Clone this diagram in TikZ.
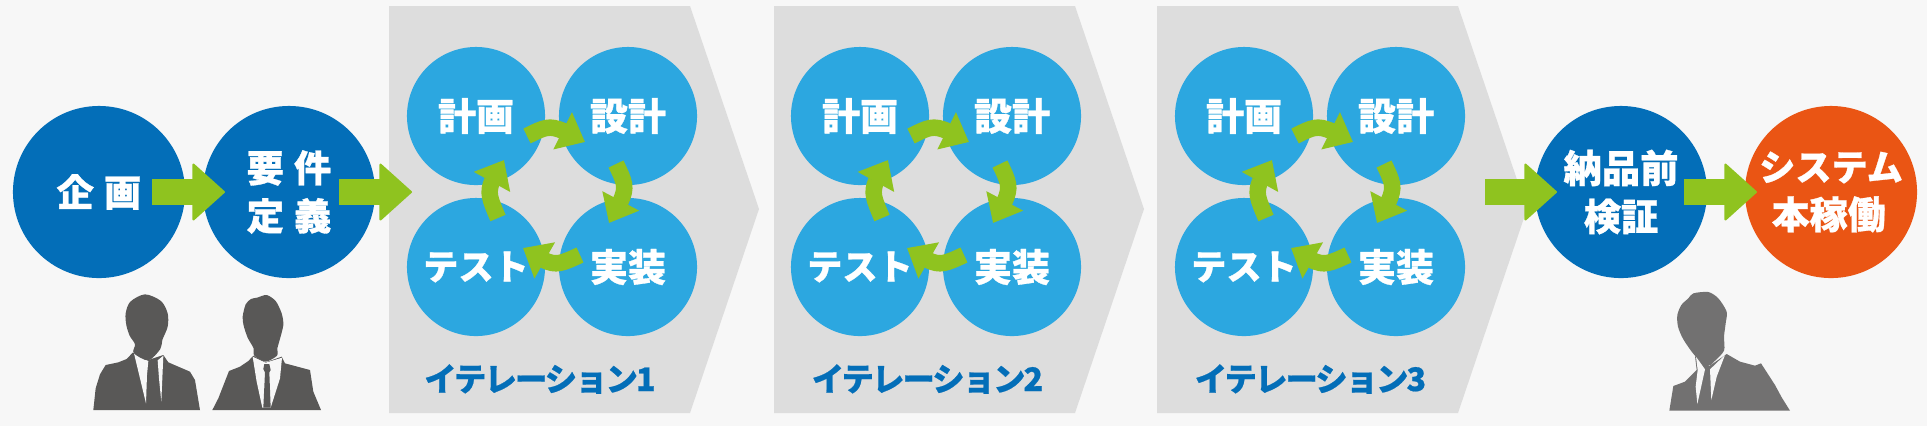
\documentclass[tikz,border=0pt]{standalone}
\usepackage{fontspec}
\usetikzlibrary{arrows.meta, bending}
\newfontfamily\jpfont{Noto Sans CJK JP}[BoldFeatures={FakeBold=.8}]
\newfontfamily\jplabel{Noto Sans CJK JP}[BoldFeatures={FakeBold=.6}, LetterSpace=-6]
\definecolor{pagegray}{HTML}{F7F7F7}
\definecolor{bandgray}{HTML}{DDDDDD}
\definecolor{phaseblue}{HTML}{036EB8}
\definecolor{loopblue}{HTML}{2CA7E0}
\definecolor{flowgreen}{HTML}{8FC31F}
\definecolor{liveorange}{HTML}{EA5514}
\definecolor{persondark}{HTML}{595857}
\definecolor{persongray}{HTML}{727171}
\tikzset{
	phase/.style={circle, fill=phaseblue, text=white, minimum size=1.72cm, inner sep=0pt, align=center,
		font=\jpfont\bfseries\fontsize{10.6}{13.66}\selectfont},
	loopstep/.style={circle, fill=loopblue, text=white, minimum size=1.38cm, inner sep=0pt,
		font=\jpfont\bfseries\fontsize{10.8}{13.66}\selectfont},
	iterlabel/.style={text=phaseblue, inner sep=0pt, font=\jplabel\bfseries\fontsize{9.2}{11}\selectfont},
	flowarrow/.style={draw=flowgreen, line width=.26cm, -{Triangle[length=.33cm, width=.59cm, line width=.02cm, round, fill=flowgreen]}},
	looparrow/.style={draw=flowgreen, line width=.165cm, -{Triangle[length=.25cm, width=.40cm, fill=flowgreen]}},
}
\begin{document}
\begin{tikzpicture}[x=.01cm, y=-.01cm]
	\useasboundingbox (0, 0) rectangle (1927, 426);
	\fill[pagegray] (0, 0) rectangle (1927, 426);

	\foreach \i/\dx/\bx/\lx in {1/0/0/540, 2/384/385/927.5, 3/768/768/1310.5} {
		\fill[bandgray] (389+\bx, 6) -- (690+\bx, 6) -- (759+\bx, 209) -- (690+\bx, 413) -- (389+\bx, 413) -- cycle;

		\node[loopstep] (plan\i) at (476+\dx, 116) {計画};
		\node[loopstep] (design\i) at (628+\dx, 116) {設計};
		\node[loopstep] (build\i) at (628+\dx, 267) {\raisebox{-.03cm}{実装}};
		\node[loopstep] (test\i) at (476+\dx, 267) {\fontsize{10}{13.66}\selectfont\raisebox{-.03cm}{テスト}};
		\node[iterlabel] (iter\i) at (\lx, 379) {イテレーション\i};

		\draw[looparrow] ([shift={(51, 20)}]plan\i.center) .. controls ([shift={(75, 8)}]plan\i.center) .. ([shift={(-43, 26)}]design\i.center);
		\draw[looparrow] ([shift={(-12, 48)}]design\i.center) .. controls ([shift={(0, 73)}]design\i.center) .. ([shift={(-19, -44)}]build\i.center);
		\draw[looparrow] ([shift={(-48, -12)}]build\i.center) .. controls ([shift={(-74, 0)}]build\i.center) .. ([shift={(47, -19)}]test\i.center);
		\draw[looparrow] ([shift={(22, -49)}]test\i.center) .. controls ([shift={(10, -77)}]test\i.center) .. ([shift={(28, 44)}]plan\i.center);
	}

	\node[phase] (concept) at (99, 192) {企\hspace{.27em}画};
	\node[phase] (require) at (289, 192) {要\hspace{.27em}件\\定\hspace{.27em}義};
	\node[phase] (verify) at (1621, 192) {\fontsize{10.9}{13.66}\selectfont 納品前\\検証};
	\node[phase, fill=liveorange] (release) at (1831, 192) {\fontsize{10.3}{13.66}\selectfont システム\\\fontsize{10.8}{13.66}\selectfont 本稼働\hspace*{.12em}};

	\coordinate (enter) at (412, 192);
	\coordinate (leave) at (1485, 192);

	\draw[flowarrow, shorten <=.53cm, shorten >=.64cm] (concept.center) -- (require.center);
	\draw[flowarrow, shorten <=.50cm] (require.center) -- (enter);
	\draw[flowarrow, shorten >=.64cm] (leave) -- (verify.center);
	\draw[flowarrow, shorten <=.63cm, shorten >=.74cm] (verify.center) -- (release.center);

	% left person
	\begin{scope}[shift={(85, 285)}, scale=1/3]
		\fill[persondark] (25, 375) -- (32, 310) -- (45, 268) -- (62, 240) -- (100, 232) -- (125, 222) -- (143, 203) -- (190, 225) -- (235, 210) -- (250, 232) -- (315, 260) -- (330, 285) -- (345, 375) -- cycle;
		\fill[pagegray] (147, 205) -- (190, 228) -- (186, 270) -- (183, 355) -- cycle;
		\fill[pagegray] (235, 212) -- (218, 226) -- (222, 280) -- (229, 350) -- (232, 280) -- cycle;
		\fill[persondark] plot[smooth cycle, tension=.5] coordinates {(146, 204) (150, 178) (134, 152) (124, 120) (122, 85) (136, 50) (180, 28) (228, 48) (248, 85) (248, 125) (232, 165) (226, 192) (190, 226)};
	\end{scope}

	% middle person
	\begin{scope}[shift={(205, 285)}, scale=1/3]
		\fill[persondark] (22, 375) -- (40, 340) -- (72, 258) -- (105, 245) -- (130, 228) -- (145, 212) -- (182, 232) -- (230, 215) -- (240, 235) -- (315, 255) -- (325, 320) -- (348, 375) -- cycle;
		\fill[pagegray] (143, 215) -- (182, 233) -- (231, 218) -- (225, 280) -- (197, 368) -- (172, 368) -- (155, 290) -- cycle;
		\fill[persondark] (178, 237) -- (193, 237) -- (197, 255) -- (193, 262) -- (197, 368) -- (175, 368) -- (180, 262) -- (175, 252) -- cycle;
		\fill[persondark] plot[smooth cycle, tension=.45] coordinates {(156, 38) (185, 30) (212, 48) (230, 85) (235, 120) (224, 165) (217, 190) (216, 212) (182, 230) (148, 212) (146, 190) (128, 158) (116, 122) (113, 95) (122, 58) (138, 42)};
	\end{scope}

	% right person
	\begin{scope}[shift={(1660, 280)}, scale=1/3]
		\fill[persongray] (28, 392) -- (40, 318) -- (75, 305) -- (110, 270) -- (105, 228) -- (148, 258) -- (200, 222) -- (240, 245) -- (285, 257) -- (303, 250) -- (345, 315) -- (365, 352) -- (390, 392) -- cycle;
		\fill[pagegray] (108, 230) -- (135, 268) -- (112, 372) -- (107, 320) -- (113, 270) -- cycle;
		\fill[pagegray] (195, 225) -- (150, 268) -- (154, 360) -- (170, 290) -- cycle;
		\fill[persongray] plot[smooth cycle, tension=.45] coordinates {(85, 55) (100, 40) (145, 36) (175, 55) (200, 95) (197, 130) (192, 170) (192, 212) (162, 245) (145, 257) (105, 227) (70, 178) (54, 140) (52, 105) (64, 75)};
	\end{scope}
\end{tikzpicture}
\end{document}
